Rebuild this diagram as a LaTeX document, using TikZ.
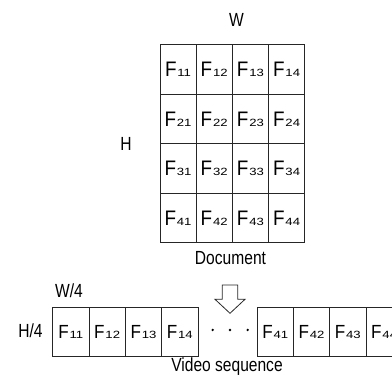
\documentclass[tikz,border=0pt]{standalone}
\usepackage{fontspec}
\setmainfont[FakeStretch=0.82]{Liberation Sans}
\newfontfamily\cellfont[FakeStretch=0.9]{Liberation Sans}
\newfontfamily\subfont[FakeStretch=1.25]{Liberation Sans}
% frame name: large F, small wide index digits on the baseline
\newcommand{\fr}[1]{{\cellfont F}\kern0.8pt{\subfont\fontsize{10.5}{10.5}\selectfont #1}}
\tikzset{
  x=1pt, y=-1pt,
  cell/.style={draw=black!85, line width=0.8pt, minimum width=36.2pt, minimum height=49.5pt,
    inner sep=0pt, font=\fontsize{21}{21}\selectfont, anchor=north west},
  frame/.style={cell, minimum width=36.3pt, minimum height=48.7pt, font=\fontsize{19}{19}\selectfont},
  lbl/.style={inner sep=0pt, font=\fontsize{19}{19}\selectfont},
  dot/.style={circle, fill=black, inner sep=0pt, minimum size=2.6pt},
}
\begin{document}
\begin{tikzpicture}
\useasboundingbox (0,0) rectangle (392,385);
\begin{scope}
\clip (0,0) rectangle (392,385);
% document grid
\foreach \r in {1,...,4}{
  \foreach \c in {1,...,4}{
    \node[cell] (g\r\c) at ({159.5+36.2*(\c-1)}, {44.3+49.5*(\r-1)}) {\fr{\r\c}};
  }
}
% first row of frames
\foreach \c in {1,...,4}{
  \node[frame] (a\c) at ({52.3+36.3*(\c-1)}, 307.3) {\fr{1\c}};
}
% last row of frames
\foreach \c in {1,...,4}{
  \node[frame] (b\c) at ({256.7+36.3*(\c-1)}, 307.3) {\fr{4\c}};
}
\end{scope}
% labels
\node[lbl, anchor=base] (w) at (236.5,26.7) {W};
\node[lbl, anchor=base] (h) at (126,150.5) {H};
\node[lbl, anchor=base] (doc) at (230.5,265) {Document};
\node[lbl, anchor=base] (w4) at (69,298) {W/4};
\node[lbl, anchor=base] (h4) at (30.5,338) {H/4};
\node[lbl, anchor=base] (vs) at (227,371.7) {Video sequence};
% ellipsis dots
\node[dot] (d1) at (212.7,330) {};
\node[dot] (d2) at (230,330) {};
\node[dot] (d3) at (247.7,330) {};
% hollow down arrow
\draw[line width=0.8pt, draw=black!85, fill=white] (222.3,285) -- (237.7,285) -- (237.7,299.3) -- (245,299.3)
  -- (230,313.3) -- (215,299.3) -- (222.3,299.3) -- cycle;
\end{tikzpicture}
\end{document}
